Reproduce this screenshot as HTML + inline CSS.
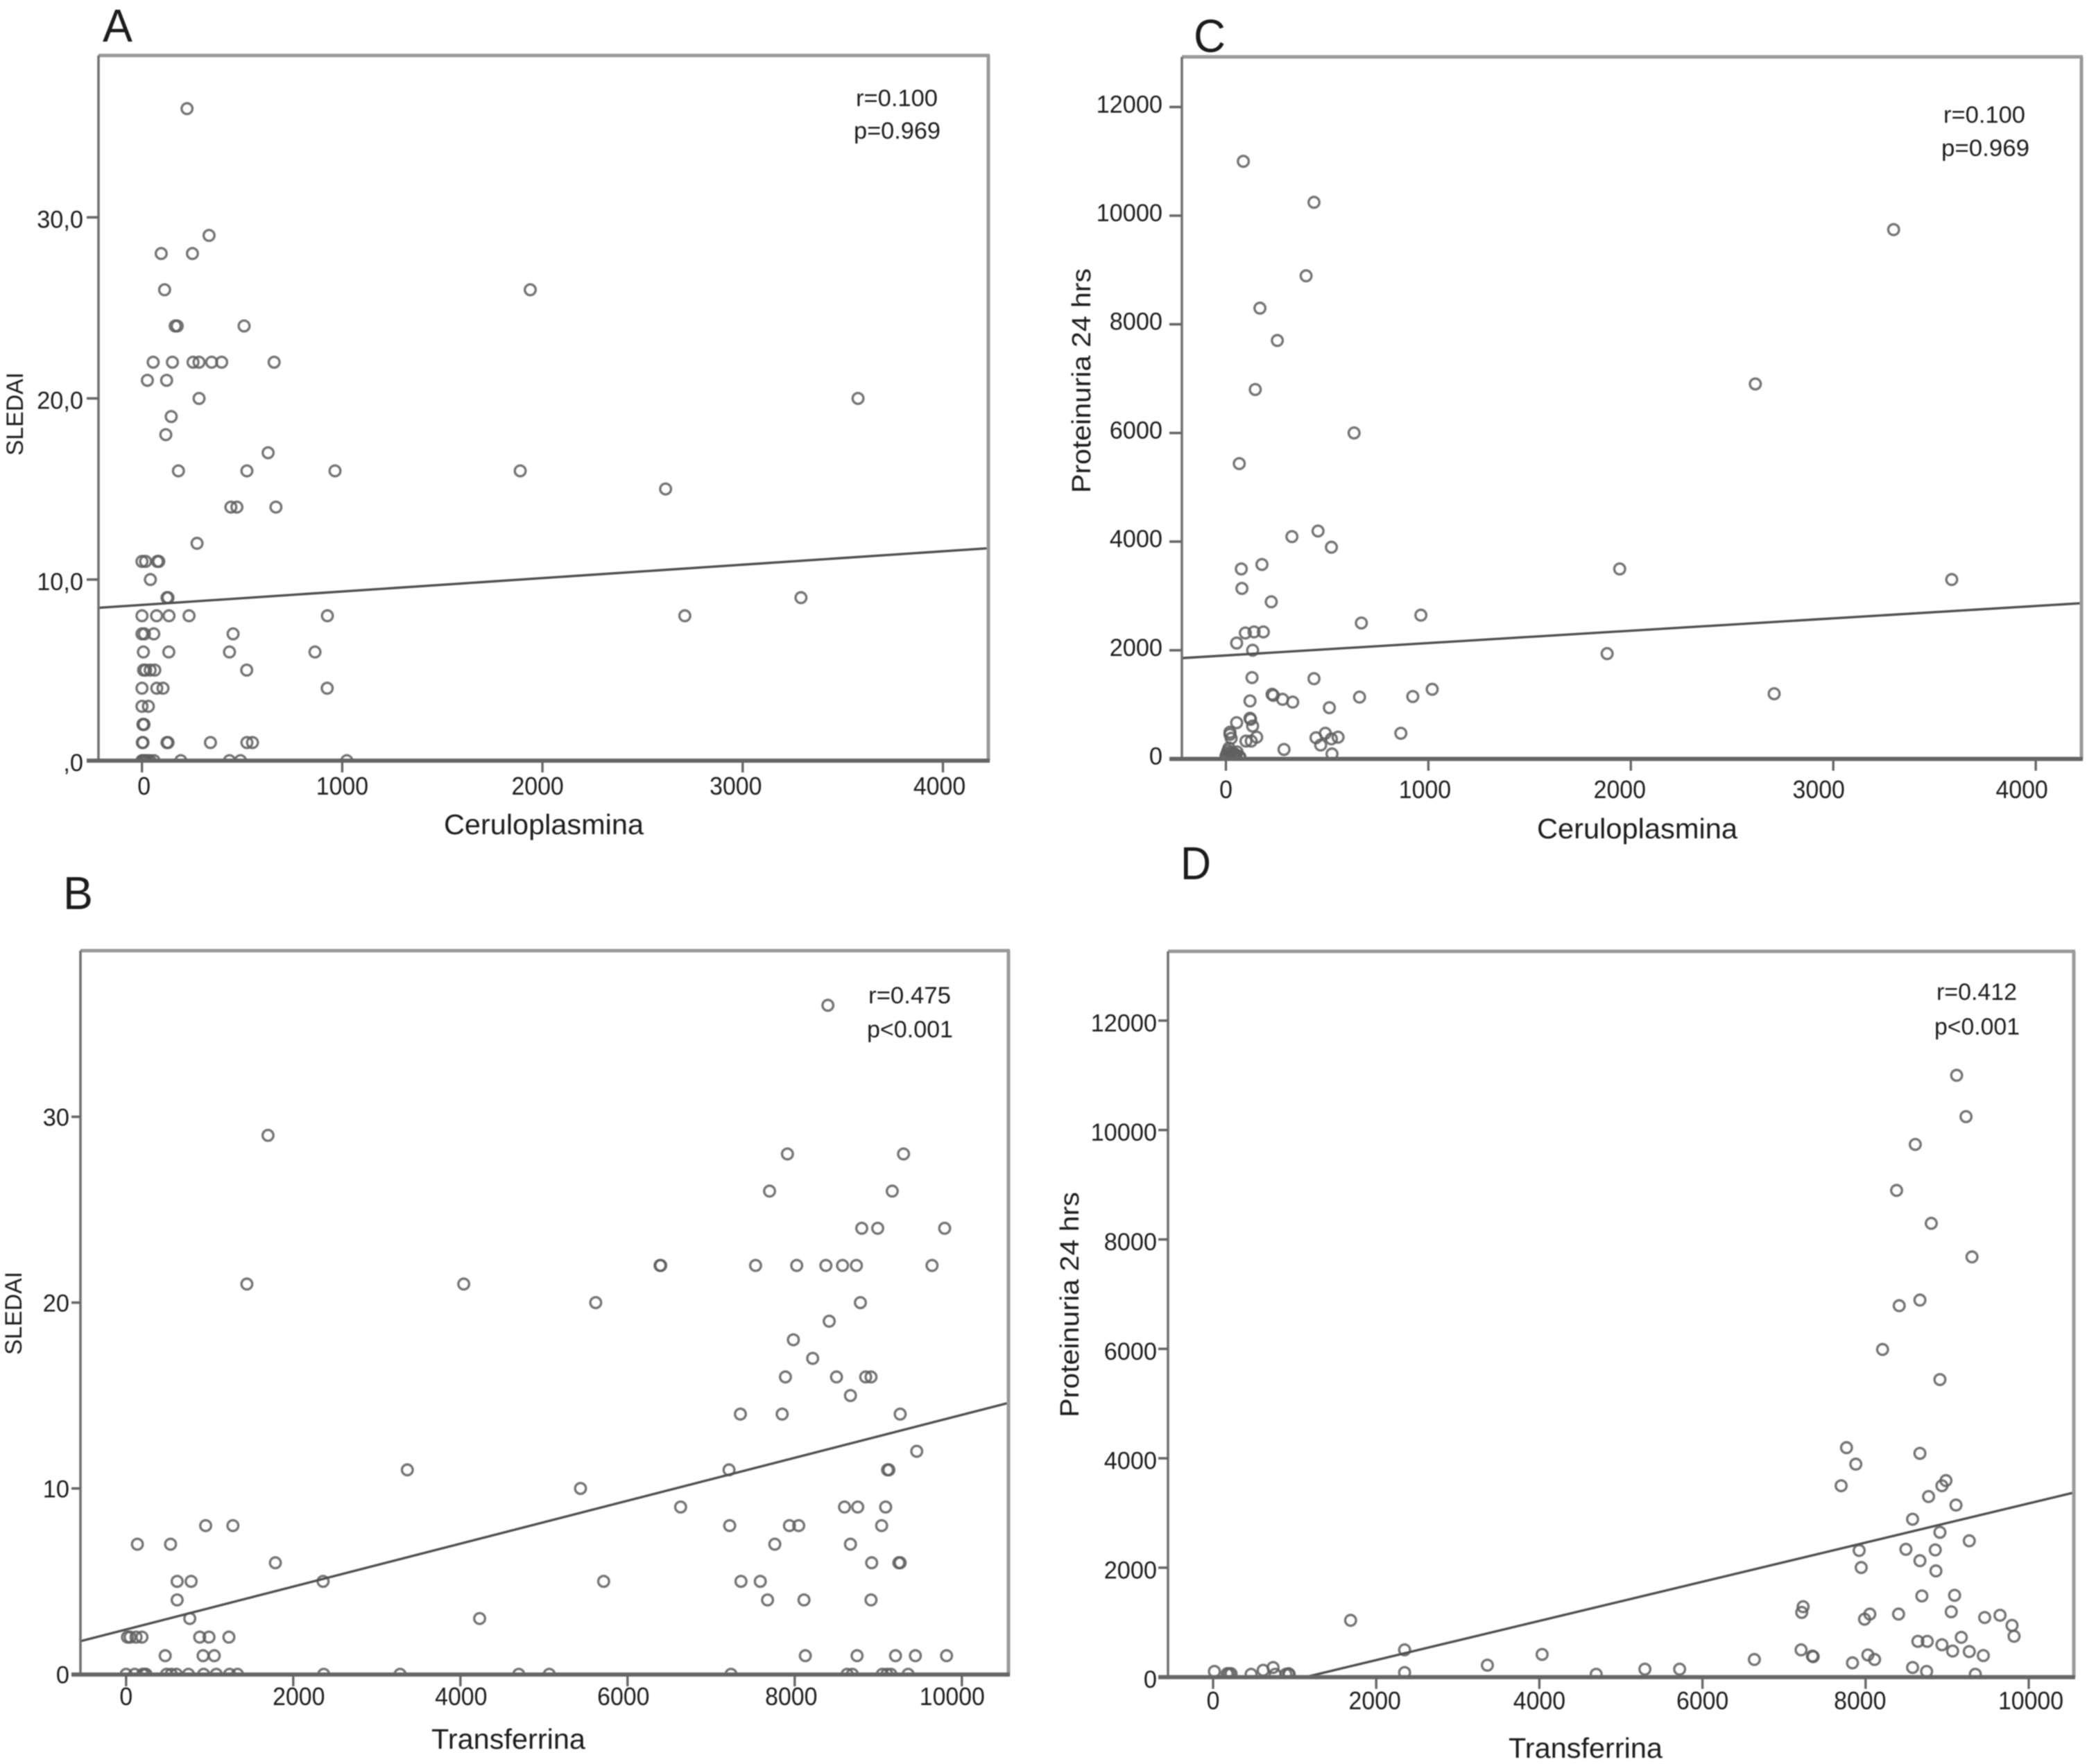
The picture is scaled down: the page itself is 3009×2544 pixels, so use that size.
<!DOCTYPE html>
<html lang="es">
<head>
<meta charset="utf-8">
<title>Scatter plots: SLEDAI and Proteinuria vs Ceruloplasmina and Transferrina</title>
<style>
html,body{margin:0;padding:0;background:#fff;}
svg{display:block;}
text{font-family:"Liberation Sans",sans-serif;fill:#1e1e1e;}
</style>
</head>
<body>
<svg id="figure" xmlns="http://www.w3.org/2000/svg" width="3009" height="2544" viewBox="0 0 3009 2544">
  <defs>
    <filter id="soft" x="-2%" y="-2%" width="104%" height="104%"><feGaussianBlur stdDeviation="0.85"/></filter>
    <clipPath id="clip-a"><rect x="142" y="80" width="1283" height="1017"/></clipPath>
    <clipPath id="clip-b"><rect x="116" y="1371" width="1338" height="1044"/></clipPath>
    <clipPath id="clip-c"><rect x="1704" y="82" width="1297" height="1012"/></clipPath>
    <clipPath id="clip-d"><rect x="1684" y="1372" width="1306" height="1047"/></clipPath>
  </defs>
  <rect width="3009" height="2544" fill="#fff"/>
  <g filter="url(#soft)">
    <g id="panel-a">
      <text x="148" y="60" font-size="67" textLength="43" lengthAdjust="spacingAndGlyphs">A</text>
      <text x="640" y="1203" font-size="41" textLength="288" lengthAdjust="spacingAndGlyphs">Ceruloplasmina</text>
      <text transform="translate(33,657) rotate(-90)" font-size="34" textLength="120" lengthAdjust="spacingAndGlyphs">SLEDAI</text>
      <text x="1234" y="153" font-size="34" textLength="118" lengthAdjust="spacingAndGlyphs">r=0.100</text>
      <text x="1231" y="200" font-size="34" textLength="125" lengthAdjust="spacingAndGlyphs">p=0.969</text>
    </g>
    <g id="panel-b">
      <text x="91" y="1311" font-size="67" textLength="43" lengthAdjust="spacingAndGlyphs">B</text>
      <text x="622" y="2522" font-size="41" textLength="222" lengthAdjust="spacingAndGlyphs">Transferrina</text>
      <text transform="translate(31,1954) rotate(-90)" font-size="34" textLength="120" lengthAdjust="spacingAndGlyphs">SLEDAI</text>
      <text x="1252" y="1447" font-size="34" textLength="119" lengthAdjust="spacingAndGlyphs">r=0.475</text>
      <text x="1250" y="1496" font-size="34" textLength="124" lengthAdjust="spacingAndGlyphs">p&lt;0.001</text>
    </g>
    <g id="panel-c">
      <text x="1721" y="75" font-size="67" textLength="46" lengthAdjust="spacingAndGlyphs">C</text>
      <text x="2216" y="1209" font-size="41" textLength="289" lengthAdjust="spacingAndGlyphs">Ceruloplasmina</text>
      <text transform="translate(1572,711) rotate(-90)" font-size="38" textLength="324" lengthAdjust="spacingAndGlyphs">Proteinuria 24 hrs</text>
      <text x="2802" y="177" font-size="34" textLength="118" lengthAdjust="spacingAndGlyphs">r=0.100</text>
      <text x="2799" y="225" font-size="34" textLength="127" lengthAdjust="spacingAndGlyphs">p=0.969</text>
    </g>
    <g id="panel-d">
      <text x="1702" y="1268" font-size="67" textLength="44" lengthAdjust="spacingAndGlyphs">D</text>
      <text x="2175" y="2535" font-size="41" textLength="222" lengthAdjust="spacingAndGlyphs">Transferrina</text>
      <text transform="translate(1555,2044) rotate(-90)" font-size="38" textLength="325" lengthAdjust="spacingAndGlyphs">Proteinuria 24 hrs</text>
      <text x="2792" y="1442" font-size="34" textLength="116" lengthAdjust="spacingAndGlyphs">r=0.412</text>
      <text x="2789" y="1492" font-size="34" textLength="123" lengthAdjust="spacingAndGlyphs">p&lt;0.001</text>
    </g>
  </g>
</svg>
<script>
// Panel A: Ceruloplasmina vs SLEDAI
const aX = [225,
  335,
  96,252,
  113,1939,
  166,176,510,
  56,152,255,285,348,398,660,
  27,123,
  285,3576,
  146,
  119,
  630,
  182,524,964,1889,
  2615,
  444,474,669,
  275,
  0,18,77,84,
  42,
  125,130,3291,
  0,73,135,235,926,2711,
  0,12,59,455,
  7,134,437,864,
  8,18,41,64,523,
  0,74,105,925,
  0,32,
  5,7,10,
  2,5,125,130,342,524,552,
  0,5,10,15,20,30,40,60,194,437,492,1023];
const aY = [36,
  29,
  28,28,
  26,26,
  24,24,24,
  22,22,22,22,22,22,22,
  21,21,
  20,20,
  19,
  18,
  17,
  16,16,16,16,
  15,
  14,14,14,
  12,
  11,11,11,11,
  10,
  9,9,9,
  8,8,8,8,8,8,
  7,7,7,7,
  6,6,6,6,
  5,5,5,5,5,
  4,4,4,4,
  3,3,
  2,2,2,
  1,1,1,1,1,1,1,
  0,0,0,0,0,0,0,0,0,0,0,0];
const aXTicks = [0,1000,2000,3000,4000];
const aXTickLabels = ["0","1000","2000","3000","4000"];
const aYTicks = [0,10,20,30];
const aYTickLabels = [",0","10,0","20,0","30,0"];
const aFit = [8.6,0.00074]; // intercept, slope

// Panel B: Transferrina vs SLEDAI
const bX = [8397,
  1698,
  7913,9302,
  7699,9167,
  8802,8993,9794,
  6397,6389,7532,8024,8373,8572,8738,9643,
  1445,4040,
  5619,8786,
  8413,
  7984,
  8215,
  7889,8500,8849,8913,
  8667,
  7350,7850,9262,
  9460,
  3365,7214,9111,9127,
  5437,
  6635,8596,8754,9088,
  952,1278,7222,7937,8048,9040,
  135,532,7762,8667,
  1786,8921,9246,9262,
  611,778,2357,5714,7357,7588,
  611,7675,8111,8913,
  762,4230,
  16,48,119,190,881,992,1230,
  468,921,1055,8127,8746,9206,9444,9817,
  0,103,198,222,238,484,540,603,746,928,1079,1238,1333,2365,3278,4698,5063,7238,8627,8690,9048,9103,9151,9357];
const bY = [36,
  29,
  28,28,
  26,26,
  24,24,24,
  22,22,22,22,22,22,22,22,
  21,21,
  20,20,
  19,
  18,
  17,
  16,16,16,16,
  15,
  14,14,14,
  12,
  11,11,11,11,
  10,
  9,9,9,9,
  8,8,8,8,8,8,
  7,7,7,7,
  6,6,6,6,
  5,5,5,5,5,5,
  4,4,4,4,
  3,3,
  2,2,2,2,2,2,2,
  1,1,1,1,1,1,1,1,
  0,0,0,0,0,0,0,0,0,0,0,0,0,0,0,0,0,0,0,0,0,0,0,0];
const bXTicks = [0,2000,4000,6000,8000,10000];
const bXTickLabels = ["0","2000","4000","6000","8000","10000"];
const bYTicks = [0,10,20,30];
const bYTickLabels = ["0","10","20","30"];
const bFit = [2.41,0.001155];

// Panel C: Ceruloplasmina vs Proteinuria 24 hrs
const cX = [86,435,3298,396,168,254,145,2615,633,66,
  455,326,521,178,76,1945,3585,79,224,963,
  669,96,139,185,53,132,1883,129,435,1019,
  2708,228,234,280,330,119,660,923,511,119,
  122,53,20,20,132,491,864,26,99,125,
  152,445,554,521,468,287,524,
  0,5,10,15,5,20,25,30,40,40,50,55,70,65];
const cY = [11000,10245,9743,8892,8297,7702,6800,6902,6000,5436,
  4195,4092,3897,3579,3497,3497,3302,3138,2892,2646,
  2502,2318,2338,2338,2133,2000,1938,1497,1477,1282,
  1200,1190,1170,1097,1046,1067,1138,1149,943,749,
  728,667,492,451,605,472,472,379,328,328,
  400,390,400,369,256,174,92,
  50,100,150,200,20,60,120,30,100,40,70,130,30,50];
const cXTicks = [0,1000,2000,3000,4000];
const cXTickLabels = ["0","1000","2000","3000","4000"];
const cYTicks = [0,2000,4000,6000,8000,10000,12000];
const cYTickLabels = ["0","2000","4000","6000","8000","10000","12000"];
const cFit = [1905,0.2275];

// Panel D: Transferrina vs Proteinuria 24 hrs
const dX = [9116,9231,8609,8380,8805,9304,8666,8412,8208,8911,
  7766,8666,7880,7700,8985,8936,8772,9108,8576,8911,
  9271,8494,7921,8854,8666,7946,8862,8690,9091,7234,
  7217,9050,8052,7987,8404,9460,9648,9795,9820,1686,
  2348,2348,8641,8756,8936,9173,9067,9271,9443,7209,
  7357,7348,8028,8110,7839,8576,8748,9345,6636,5720,
  5294,4697,4034,3363,16,172,196,221,466,614,
  736,761,892,925,933];
const dY = [11000,10245,9737,8896,8294,7681,6892,6789,5989,5439,
  4194,4090,3893,3498,3592,3498,3301,3145,2886,2647,
  2491,2336,2315,2325,2128,2003,1941,1484,1495,1287,
  1183,1194,1152,1059,1152,1090,1131,945,747,1038,
  498,83,654,654,592,727,477,467,394,498,
  374,384,405,322,260,176,104,52,322,145,
  145,52,415,218,104,62,62,62,52,125,
  176,52,52,62,52];
const dXTicks = [0,2000,4000,6000,8000,10000];
const dXTickLabels = ["0","2000","4000","6000","8000","10000"];
const dYTicks = [0,2000,4000,6000,8000,10000,12000];
const dYTickLabels = ["0","2000","4000","6000","8000","10000","12000"];
const dFit = [-405,0.358];

const NS = "http://www.w3.org/2000/svg";
const AXIS_DARK = "#666";
const AXIS_LIGHT = "#9a9a9a";

function svgEl(tag, parent, attrs) {
  const el = document.createElementNS(NS, tag);
  for (const k in attrs) el.setAttribute(k, attrs[k]);
  parent.appendChild(el);
  return el;
}

function squeeze(t, factor) {
  const w = t.getComputedTextLength();
  t.setAttribute("textLength", (w * factor).toFixed(1));
  t.setAttribute("lengthAdjust", "spacingAndGlyphs");
}

function drawPanel(id, box, xs, ys, xTicks, xLabels, yTicks, yLabels, fit) {
  const g = document.getElementById("panel-" + id);
  const sx = v => box.x0 + v * box.kx;
  const sy = v => box.y0 - v * box.ky;
  const clip = "url(#clip-" + id + ")";

  const marks = svgEl("g", g, {"clip-path": clip});
  
  
  xs.forEach((xv, i) => {
    const c = svgEl("circle", marks, {cx: sx(xv), cy: sy(ys[i]), r: 7.8, fill: "none", stroke: "#5e5e5e", "stroke-width": 3.4, "stroke-opacity": 0.85});
    
    
  });

  const xMin = (box.left - box.x0) / box.kx;
  const xMax = (box.right - box.x0) / box.kx;
  const fitLine = svgEl("line", g, {
    x1: sx(xMin), y1: sy(fit[0] + fit[1] * xMin),
    x2: sx(xMax), y2: sy(fit[0] + fit[1] * xMax),
    stroke: "#505050", "stroke-width": 3.4, "clip-path": clip
  });
  
  

  const topEdge = svgEl("line", g, {x1: box.left, x2: box.right + 2, y1: box.top, y2: box.top, stroke: AXIS_LIGHT, "stroke-width": 5});
  
  
  const rightEdge = svgEl("line", g, {x1: box.right, x2: box.right, y1: box.top, y2: box.bottom, stroke: AXIS_LIGHT, "stroke-width": 5});
  
  
  const leftEdge = svgEl("line", g, {x1: box.left, x2: box.left, y1: box.top, y2: box.bottom, stroke: "#727272", "stroke-width": 3.6});
  
  
  const bottomEdge = svgEl("line", g, {x1: box.left - box.tickLen, x2: box.right + 2, y1: box.bottom, y2: box.bottom, stroke: AXIS_DARK, "stroke-width": 6});
  
  

  xTicks.forEach((t, i) => {
    const tick = svgEl("line", g, {x1: sx(t), x2: sx(t), y1: box.bottom, y2: box.bottom + 17, stroke: AXIS_DARK, "stroke-width": 3.4});
    
    
    const lab = svgEl("text", g, {x: sx(t) + box.labelShift[i], y: box.xLabelY, "font-size": 36, "text-anchor": "middle"});
    lab.textContent = xLabels[i];
    
    
    squeeze(lab, 0.94);
  });

  yTicks.forEach((t, i) => {
    const tick = svgEl("line", g, {x1: box.left - box.tickLen, x2: box.left, y1: sy(t), y2: sy(t), stroke: AXIS_DARK, "stroke-width": 3.6});
    
    
    const lab = svgEl("text", g, {x: box.yLabelX, y: sy(t) + box.yLabelDy, "font-size": 35, "text-anchor": "end"});
    lab.textContent = yLabels[i];
    
    
    squeeze(lab, 0.98);
  });
}

drawPanel("a",
  {left:142,right:1425,top:80,bottom:1097,x0:204.7,kx:0.2887,y0:1097,ky:26.12,xLabelY:1146,yLabelX:120,yLabelDy:15,tickLen:17,labelShift:[3,0,-7,-10,-5]},
  aX,aY,aXTicks,aXTickLabels,aYTicks,aYTickLabels,aFit);
drawPanel("b",
  {left:116,right:1454,top:1371,bottom:2415,x0:181.8,kx:0.1205,y0:2414.6,ky:26.8,xLabelY:2459,yLabelX:100,yLabelDy:13,tickLen:13,labelShift:[0,8,1,-6,-5,-14]},
  bX,bY,bXTicks,bXTickLabels,bYTicks,bYTickLabels,bFit);
drawPanel("c",
  {left:1704,right:3001,top:82,bottom:1094.5,x0:1767.5,kx:0.2919,y0:1094.5,ky:0.07835,xLabelY:1151,yLabelX:1676,yLabelDy:8,tickLen:18,labelShift:[0,-5,-16,-21,-20]},
  cX,cY,cXTicks,cXTickLabels,cYTicks,cYTickLabels,cFit);
drawPanel("d",
  {left:1684,right:2990,top:1372,bottom:2418.7,x0:1749,kx:0.1176,y0:2418.7,ky:0.0789,xLabelY:2465,yLabelX:1668,yLabelDy:15.5,tickLen:14,labelShift:[0,-2,0,0,-8,3]},
  dX,dY,dXTicks,dXTickLabels,dYTicks,dYTickLabels,dFit);
</script>
</body>
</html>
